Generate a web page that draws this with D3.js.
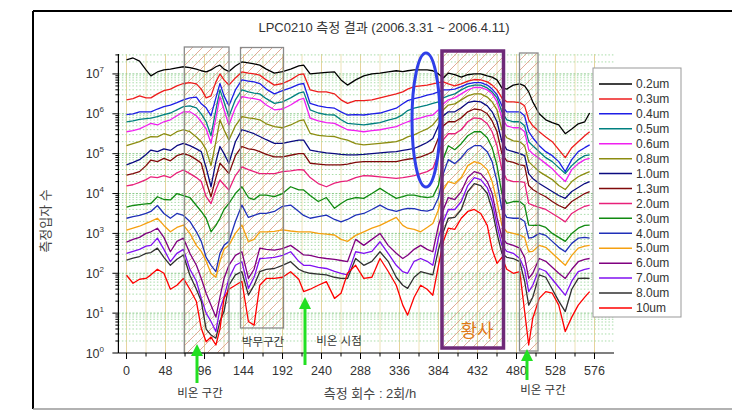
<!DOCTYPE html>
<html><head><meta charset="utf-8">
<script src="https://cdn.jsdelivr.net/npm/d3@7"></script>
<style>
body{margin:0;background:#fff}
svg{display:block}
text{font-family:"Liberation Sans",Arial,"Noto Sans CJK KR",sans-serif}
</style>
</head><body>
<svg id="c" width="732" height="419"></svg>
<script>
// measurement number (2 per hour)
const xs = [0,8,16,24,30,38,46,54,62,70,78,86,92,98,104,110,115,120,126,134,142,150,157,164,172,182,192,202,212,218,226,236,246,256,264,272,282,292,302,312,322,332,340,346,354,362,370,377,384,390,396,404,412,420,428,436,444,450,456,462,468,476,484,490,495,500,508,516,524,532,540,548,556,564,570];

// log10 of particle counts, one array per size channel
const s0_2 = [7.35,7.4,7.32,7.1,6.95,7.05,7.1,7.12,7.15,7.18,7.16,7.12,7.08,7.05,7.1,7.18,7.22,7.12,7.06,7.2,7.3,7.28,7.25,7.22,7.12,7.02,7.06,7.12,7.2,7.22,7.0,7.02,7.04,7.05,6.85,6.72,6.85,6.95,7.0,7.02,7.05,7.08,7.06,7.08,7.1,7.1,7.1,7.08,7.0,6.9,7.02,6.98,6.92,6.98,7.0,7.0,6.95,6.92,6.85,6.65,6.62,6.72,6.75,6.7,6.55,6.3,6.0,5.85,5.78,5.72,5.5,5.62,5.75,5.8,6.02];
const s0_3 = [6.35,6.38,6.45,6.4,6.4,6.5,6.58,6.62,6.7,6.76,6.78,6.75,6.62,6.4,6.45,6.8,7.0,6.85,6.72,6.9,7.05,7.02,7.0,6.97,6.85,6.72,6.76,6.85,6.98,7.0,6.6,6.55,6.55,6.5,6.35,6.26,6.33,6.33,6.35,6.4,6.45,6.5,6.55,6.62,6.68,6.7,6.72,6.75,6.78,6.8,6.75,6.7,6.75,6.82,6.86,6.85,6.8,6.72,6.6,6.4,6.3,6.3,6.28,6.2,5.85,5.7,5.55,5.42,5.3,5.1,4.9,5.15,5.3,5.45,5.55];
const s0_4 = [5.98,6.0,6.05,6.05,6.05,6.12,6.18,6.22,6.28,6.35,6.4,6.42,6.25,6.15,5.95,6.4,6.76,6.45,6.2,6.6,6.85,6.82,6.8,6.76,6.62,6.5,6.58,6.65,6.74,6.76,6.26,6.2,6.16,6.14,6.05,5.97,5.98,5.97,6.0,6.02,6.08,6.14,6.25,6.33,6.38,6.42,6.47,6.5,6.55,6.6,6.6,6.62,6.68,6.75,6.78,6.78,6.72,6.62,6.48,6.2,6.05,6.05,6.05,5.95,5.55,5.4,5.2,5.05,4.95,4.8,4.55,4.85,5.05,5.15,5.22];
const s0_5 = [5.8,5.82,5.86,5.88,5.89,5.93,5.98,6.02,6.1,6.18,6.2,6.15,6.0,5.8,5.45,6.1,6.6,6.3,5.93,6.35,6.6,6.55,6.52,6.5,6.38,6.26,6.3,6.4,6.52,6.55,6.1,6.02,5.98,5.97,5.85,5.76,5.74,5.72,5.75,5.78,5.84,5.89,5.98,6.08,6.14,6.18,6.22,6.26,6.3,6.4,6.45,6.5,6.6,6.68,6.72,6.72,6.65,6.55,6.4,6.05,5.85,5.8,5.8,5.7,5.3,5.2,5.05,4.9,4.8,4.65,4.5,4.7,4.85,4.95,4.97];
const s0_6 = [5.55,5.58,5.62,5.7,5.76,5.72,5.8,5.85,5.95,6.05,6.05,5.95,5.8,5.62,5.26,5.9,6.43,6.1,5.72,6.15,6.43,6.4,6.38,6.35,6.22,6.1,6.12,6.22,6.35,6.39,5.89,5.82,5.78,5.76,5.68,5.6,5.58,5.55,5.58,5.6,5.64,5.68,5.75,5.8,5.86,5.9,5.95,5.97,6.1,6.25,6.35,6.4,6.5,6.6,6.66,6.66,6.6,6.5,6.3,5.9,5.7,5.65,5.65,5.55,5.1,5.0,4.88,4.75,4.62,4.45,4.3,4.6,4.75,4.85,4.88];
const s0_8 = [5.2,5.25,5.3,5.38,5.43,5.42,5.5,5.45,5.55,5.6,5.55,5.42,5.3,5.1,4.7,5.3,5.85,5.6,5.34,5.7,5.93,5.9,5.88,5.85,5.75,5.68,5.65,5.72,5.82,5.85,5.51,5.46,5.44,5.43,5.38,5.34,5.25,5.22,5.24,5.26,5.28,5.3,5.36,5.42,5.47,5.55,5.62,5.72,5.9,6.1,6.22,6.25,6.35,6.45,6.5,6.5,6.42,6.3,6.1,5.6,5.4,5.32,5.3,5.2,4.8,4.7,4.55,4.45,4.35,4.2,4.1,4.3,4.42,4.5,4.55];
const s1_0 = [4.72,4.78,4.85,4.98,5.09,5.05,5.12,5.08,5.2,5.26,5.2,5.12,5.05,4.65,4.17,4.8,5.18,5.0,4.76,5.3,5.6,5.55,5.5,5.43,5.35,5.26,5.26,5.3,5.34,5.34,5.09,5.05,5.02,5.0,4.98,4.97,4.97,4.98,5.0,5.02,5.04,5.05,5.08,5.1,5.13,5.2,5.28,5.38,5.7,5.95,6.05,6.05,6.15,6.28,6.32,6.3,6.2,6.05,5.8,5.3,5.1,5.05,5.0,4.95,4.5,4.38,4.25,4.15,4.05,3.95,3.88,4.05,4.15,4.25,4.3];
const s1_3 = [4.46,4.5,4.55,4.7,4.84,4.8,4.88,4.82,4.95,5.0,4.95,4.85,4.76,4.3,3.92,4.4,4.76,4.65,4.5,4.95,5.18,5.12,5.1,5.05,4.98,4.92,4.92,4.96,5.0,5.0,4.76,4.74,4.72,4.72,4.72,4.74,4.78,4.8,4.8,4.8,4.8,4.8,4.84,4.86,4.88,4.92,4.98,5.05,5.4,5.7,5.8,5.8,5.9,6.05,6.12,6.1,6.0,5.82,5.55,5.0,4.82,4.78,4.72,4.7,4.2,4.1,4.0,3.92,3.8,3.7,3.63,3.8,3.9,4.0,4.05];
const s2_0 = [4.19,4.22,4.28,4.35,4.42,4.4,4.45,4.4,4.52,4.59,4.5,4.4,4.3,3.92,3.75,4.1,4.34,4.22,4.09,4.45,4.67,4.6,4.55,4.5,4.5,4.5,4.55,4.57,4.6,4.59,4.4,4.25,4.17,4.26,4.3,4.32,4.4,4.45,4.44,4.42,4.4,4.38,4.4,4.42,4.45,4.5,4.55,4.63,5.0,5.35,5.5,5.5,5.6,5.8,5.9,5.88,5.75,5.55,5.2,4.6,4.35,4.3,4.3,4.28,3.75,3.71,3.65,3.6,3.5,3.4,3.29,3.5,3.6,3.68,3.71];
const s3_0 = [3.66,3.7,3.72,3.74,3.75,3.92,3.85,3.84,4.0,3.95,3.9,3.7,3.55,3.38,3.04,3.2,3.38,3.6,3.75,4.0,4.17,3.9,3.85,3.96,3.96,3.92,4.0,4.17,4.09,4.09,3.95,3.8,3.9,3.63,3.75,3.85,3.9,3.88,4.0,4.13,4.0,3.88,3.92,3.96,3.96,3.92,3.9,3.92,4.21,4.88,5.2,5.1,5.25,5.45,5.55,5.55,5.4,5.15,4.7,4.0,3.75,3.8,3.8,3.7,3.21,3.2,3.21,3.15,3.0,2.9,2.8,3.0,3.13,3.2,3.21];
const s4_0 = [3.38,3.42,3.45,3.5,3.55,3.7,3.5,3.38,3.5,3.45,3.3,3.04,2.8,2.4,2.2,2.04,2.5,2.7,2.8,3.3,3.71,3.4,3.45,3.5,3.5,3.55,3.68,3.71,3.55,3.45,3.38,3.42,3.46,3.35,3.29,3.35,3.46,3.5,3.6,3.71,3.6,3.55,3.6,3.63,3.62,3.58,3.56,3.6,3.9,4.5,4.85,4.75,4.9,5.1,5.2,5.2,5.05,4.8,4.3,3.6,3.4,3.38,3.38,3.3,2.88,2.9,3.0,2.95,2.8,2.65,2.54,2.75,2.88,2.9,2.88];
const s5_0 = [3.08,3.13,3.18,3.25,3.3,3.38,3.2,3.04,3.15,3.21,3.0,2.7,2.55,2.3,2.0,1.9,2.3,2.6,2.7,3.0,3.21,2.79,2.85,3.04,3.04,3.05,3.09,3.06,3.04,3.04,3.04,3.0,2.98,2.96,2.85,2.8,2.95,3.04,3.13,3.2,3.3,3.4,3.2,3.13,3.1,3.04,3.15,3.25,3.6,4.1,4.3,4.25,4.4,4.7,4.8,4.75,4.6,4.3,3.8,3.2,3.04,3.0,2.96,2.9,2.54,2.55,2.7,2.65,2.5,2.35,2.2,2.45,2.63,2.68,2.7];
const s6_0 = [2.78,2.85,2.9,3.0,3.04,3.13,2.9,2.54,2.8,2.88,2.5,2.2,1.87,1.5,1.2,0.9,1.4,1.87,2.2,2.45,2.54,1.87,2.1,2.63,2.6,2.58,2.62,2.7,2.55,2.46,2.45,2.4,2.37,2.35,2.32,2.29,2.85,2.7,2.85,3.0,2.7,2.5,2.37,2.45,2.6,2.7,2.6,2.54,3.2,3.6,3.9,3.85,4.05,4.4,4.55,4.5,4.3,4.0,3.4,2.9,2.75,2.7,2.63,2.4,1.87,2.0,2.37,2.3,2.15,2.0,1.87,2.1,2.29,2.35,2.37];
const s7_0 = [2.5,2.55,2.6,2.68,2.7,2.88,2.6,2.29,2.5,2.6,2.1,1.8,1.37,1.0,0.79,0.54,1.1,1.4,1.87,2.2,2.29,1.62,1.9,2.37,2.38,2.4,2.45,2.54,2.3,2.2,2.2,2.15,2.12,2.05,2.0,1.96,2.54,2.5,2.55,2.79,2.5,2.2,2.04,2.0,2.3,2.37,2.3,2.2,2.9,3.3,3.6,3.6,3.8,4.2,4.4,4.35,4.15,3.8,3.2,2.7,2.55,2.5,2.37,2.1,1.54,1.7,2.12,2.05,1.85,1.65,1.45,1.8,2.04,2.1,2.12];
const s8_0 = [2.33,2.38,2.42,2.5,2.52,2.63,2.4,2.2,2.35,2.46,1.95,1.6,1.3,0.6,0.45,0.37,0.8,1.04,1.7,1.96,2.04,1.45,1.7,2.04,2.1,2.12,2.2,2.29,2.1,2.04,2.0,1.98,1.96,1.9,1.87,1.87,2.37,2.2,2.3,2.54,2.3,1.9,1.7,1.62,1.9,2.04,2.0,1.96,2.6,3.04,3.38,3.4,3.6,4.05,4.25,4.2,4.0,3.6,3.0,2.5,2.4,2.37,2.29,1.8,1.2,1.4,1.96,1.9,1.6,1.3,1.04,1.6,1.87,1.88,1.87];
const s10 = [1.95,1.75,1.85,1.87,1.96,2.1,2.0,1.6,1.7,1.87,1.6,1.29,0.62,0.28,0.4,0.2,0.6,1.37,1.6,1.7,1.8,0.79,0.7,1.7,1.87,1.87,1.9,2.04,1.85,1.54,1.6,1.7,1.79,1.37,1.5,2.0,2.2,1.87,1.9,2.37,2.05,1.7,1.2,0.95,1.4,1.7,1.6,1.45,2.2,2.8,3.13,3.1,3.38,3.55,3.6,3.5,3.2,2.6,2.25,2.4,2.1,2.0,2.04,1.04,0.2,0.87,1.37,1.54,1.5,1.2,0.54,0.9,1.2,1.4,1.54];

const sizeLabels = ["0.2um","0.3um","0.4um","0.5um","0.6um","0.8um","1.0um","1.3um","2.0um","3.0um","4.0um","5.0um","6.0um","7.0um","8.0um","10um"];
const seriesList = [s0_2,s0_3,s0_4,s0_5,s0_6,s0_8,s1_0,s1_3,s2_0,s3_0,s4_0,s5_0,s6_0,s7_0,s8_0,s10];
const colors = ["#000000","#ee1c1c","#1e1ee6","#008080","#f020f0","#8c8c10","#0a0a80","#800a0a","#e8207a","#108a10","#2030b8","#f5a010","#800080","#8010f0","#303030","#ff0000"];

const xTicks = d3.range(0, 577, 48);
const xMinor = d3.range(0, 600, 24);
const yExps = [0,1,2,3,4,5,6,7];

const W = 732, H = 419;
const svg = d3.select("#c");
const x = d3.scaleLinear().domain([-10, 600]).range([118.4, 614]);
const y = d3.scaleLog().domain([1, Math.pow(10, 7.5)]).range([353, 54]);

// outer frame
svg.append("line").attr("x1",33).attr("x2",W).attr("y1",11).attr("y2",11).attr("stroke","#000").attr("stroke-width",2);
svg.append("line").attr("x1",33).attr("x2",33).attr("y1",11).attr("y2",409).attr("stroke","#000").attr("stroke-width",2);
svg.append("line").attr("x1",33).attr("x2",W).attr("y1",409).attr("y2",409).attr("stroke","#999").attr("stroke-width",1.5);

// hatch pattern
const defs = svg.append("defs");
const pat = defs.append("pattern").attr("id","hatch").attr("patternUnits","userSpaceOnUse").attr("width",10).attr("height",10);
pat.append("path").attr("d","M0,10 L10,0 M-5,5 L5,-5 M5,15 L15,5").attr("stroke","#d9977e").attr("stroke-width",0.8);

// gridlines
const grid = svg.append("g");
xMinor.forEach(v => {
  grid.append("line").attr("x1",x(v)).attr("x2",x(v)).attr("y1",54).attr("y2",353)
    .attr("stroke", v % 48 === 0 ? "#e6d49c" : "#eee2b8").attr("stroke-width",1);
});
yExps.forEach(k => {
  for (let m = 1; m <= 9; m++) {
    const val = m * Math.pow(10, k);
    if (val > Math.pow(10, 7.5) || (k === 0 && m === 1)) continue;
    grid.append("line").attr("x1",x(-10)).attr("x2",x(600)).attr("y1",y(val)).attr("y2",y(val))
      .attr("stroke", m === 1 ? "#88c888" : "#a8dca8").attr("stroke-width",1)
      .attr("stroke-dasharray", m === 1 ? "2,1.5" : "1.5,2");
  }
});

// hatched regions (fills)
const regions = [
  {x0:184.3, x1:229, y0:47, y1:353, stroke:"#8a8a8a", w:1.3},
  {x0:240.5, x1:283.5, y0:47.5, y1:328, stroke:"#8a8a8a", w:1.3},
  {x0:442, x1:503.5, y0:51, y1:348, stroke:"#6e2a78", w:3.5},
  {x0:519.5, x1:538, y0:53, y1:351, stroke:"#8a8a8a", w:1.3}
];
regions.forEach(r => {
  svg.append("rect").attr("x",r.x0).attr("y",r.y0).attr("width",r.x1-r.x0).attr("height",r.y1-r.y0)
    .attr("fill","url(#hatch)");
});

// series
const line = d3.line().x((d,i) => x(xs[i])).y(d => y(Math.pow(10, d)));
seriesList.forEach((s, i) => {
  svg.append("path").attr("d", line(s)).attr("fill","none").attr("stroke",colors[i])
    .attr("stroke-width",1.3).attr("stroke-linejoin","round");
});

// region borders on top
regions.forEach(r => {
  svg.append("rect").attr("x",r.x0).attr("y",r.y0).attr("width",r.x1-r.x0).attr("height",r.y1-r.y0)
    .attr("fill","none").attr("stroke",r.stroke).attr("stroke-width",r.w);
});

// blue ellipse
svg.append("ellipse").attr("cx",426).attr("cy",120).attr("rx",14).attr("ry",67)
  .attr("fill","none").attr("stroke","#2f3fe8").attr("stroke-width",3);

// axes
const ax = svg.append("g").attr("stroke","#000");
ax.append("line").attr("x1",x(-10)).attr("x2",x(-10)).attr("y1",54).attr("y2",353).attr("stroke-width",1.2);
ax.append("line").attr("x1",x(-10)).attr("x2",x(600)).attr("y1",353).attr("y2",353).attr("stroke-width",1.2);
yExps.forEach(k => {
  for (let m = 1; m <= 9; m++) {
    const val = m * Math.pow(10, k);
    if (val > Math.pow(10, 7.5)) continue;
    const len = m === 1 ? 6 : 3;
    ax.append("line").attr("x1",x(-10)-len).attr("x2",x(-10)).attr("y1",y(val)).attr("y2",y(val)).attr("stroke-width",1);
  }
});
xMinor.forEach(v => {
  const len = v % 48 === 0 ? 6 : 3.5;
  ax.append("line").attr("x1",x(v)).attr("x2",x(v)).attr("y1",353).attr("y2",353+len).attr("stroke-width",1);
});

// tick labels
xTicks.forEach(v => {
  svg.append("text").attr("x",x(v)).attr("y",375).attr("text-anchor","middle")
    .attr("font-size",12.5).attr("fill","#333").text(v);
});
yExps.forEach(k => {
  const t = svg.append("text").attr("x",104).attr("y",y(Math.pow(10,k))+4.5).attr("text-anchor","end")
    .attr("font-size",12.5).attr("fill","#333");
  t.append("tspan").text("10");
  t.append("tspan").attr("font-size",8).attr("dy",-6).text(k);
});

// title and axis titles
svg.append("text").attr("x",384).attr("y",32).attr("text-anchor","middle").attr("font-size",13)
  .attr("fill","#333").text("LPC0210 측정 결과 (2006.3.31 ~ 2006.4.11)");
svg.append("text").attr("transform","translate(50,221) rotate(-90)").attr("text-anchor","middle")
  .attr("font-size",13).attr("fill","#444").text("측정입자 수");
svg.append("text").attr("x",370).attr("y",398).attr("text-anchor","middle").attr("font-size",13)
  .attr("fill","#444").text("측정 회수 : 2회/h");

// annotations
const ann = [
  {t:"비온 구간", x:200, y:397, s:11.5, c:"#333"},
  {t:"박무구간", x:263, y:346, s:11.5, c:"#333"},
  {t:"비온 시점", x:339, y:345, s:11.5, c:"#333"},
  {t:"비온 구간", x:543, y:394, s:11.5, c:"#333"},
  {t:"황사", x:477, y:337, s:18, c:"#e07a18"}
];
ann.forEach(a => {
  svg.append("text").attr("x",a.x).attr("y",a.y).attr("text-anchor","middle").attr("font-size",a.s)
    .attr("fill",a.c).text(a.t);
});

// green arrows
const arrows = [{x:197, tip:344, tail:383},{x:305, tip:297, tail:365},{x:527, tip:349, tail:380}];
arrows.forEach(a => {
  svg.append("line").attr("x1",a.x).attr("x2",a.x).attr("y1",a.tip+8).attr("y2",a.tail)
    .attr("stroke","#22e022").attr("stroke-width",3);
  svg.append("path").attr("d",`M${a.x},${a.tip} L${a.x-6},${a.tip+12} L${a.x+6},${a.tip+12} Z`).attr("fill","#22e022");
});

// legend
const lg = svg.append("g");
lg.append("rect").attr("x",593).attr("y",68).attr("width",88).attr("height",249)
  .attr("fill","#fff").attr("stroke","#999").attr("stroke-width",1);
sizeLabels.forEach((lab, i) => {
  const yy = 84 + i * 14.93;
  lg.append("line").attr("x1",599).attr("x2",632).attr("y1",yy).attr("y2",yy)
    .attr("stroke",colors[i]).attr("stroke-width",1.5);
  lg.append("text").attr("x",636).attr("y",yy+4.2).attr("font-size",12).attr("fill","#333").text(lab);
});
</script>
</body></html>
